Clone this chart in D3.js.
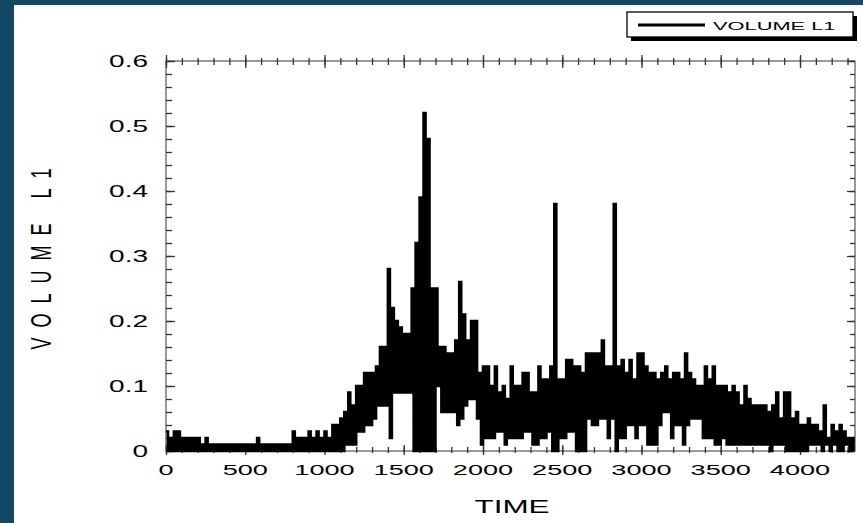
<!DOCTYPE html>
<html><head><meta charset="utf-8">
<script src="https://cdn.jsdelivr.net/npm/d3@7"></script>
<style>html,body{margin:0;padding:0;background:#fff;} svg{display:block;}</style>
</head><body>
<svg id="c" width="863" height="523"></svg>
<script>
// ---- data ----
const timeStep = 25; // each value pair covers one 25-unit TIME bin
const binStart = d3.range(0, 4350, timeStep);
const volumeHigh = [
  0.03,0.02,0.03,0.03,0.02,0.02,0.02,0.02,0.02,0.01,
  0.02,0.01,0.01,0.01,0.01,0.01,0.01,0.01,0.01,0.01,
  0.01,0.01,0.01,0.02,0.01,0.01,0.01,0.01,0.01,0.01,
  0.01,0.01,0.03,0.02,0.02,0.02,0.03,0.02,0.03,0.02,
  0.03,0.02,0.04,0.04,0.05,0.06,0.09,0.07,0.10,0.10,
  0.12,0.12,0.12,0.13,0.16,0.16,0.28,0.22,0.20,0.19,
  0.18,0.18,0.25,0.32,0.39,0.52,0.48,0.25,0.25,0.16,
  0.16,0.15,0.15,0.17,0.26,0.21,0.17,0.20,0.20,0.12,
  0.13,0.13,0.10,0.13,0.09,0.10,0.08,0.13,0.10,0.10,
  0.12,0.12,0.09,0.09,0.13,0.11,0.11,0.13,0.38,0.11,
  0.11,0.14,0.14,0.13,0.13,0.12,0.15,0.15,0.15,0.15,
  0.17,0.13,0.13,0.38,0.13,0.14,0.12,0.14,0.11,0.15,
  0.15,0.13,0.12,0.12,0.11,0.12,0.13,0.11,0.12,0.12,
  0.11,0.15,0.12,0.11,0.10,0.10,0.13,0.11,0.13,0.10,
  0.10,0.10,0.09,0.10,0.09,0.07,0.10,0.08,0.07,0.07,
  0.07,0.07,0.06,0.07,0.09,0.05,0.09,0.09,0.05,0.06,
  0.04,0.04,0.05,0.04,0.04,0.03,0.07,0.02,0.04,0.03,
  0.04,0.03,0.02,0.02
];
const volumeLow = [
  0,0,0,0,0,0,0,0,0,0,
  0,0,0,0,0,0,0,0,0,0,
  0,0,0,0,0,0,0,0,0,0,
  0,0,0,0,0,0,0,0,0,0,
  0,0,0,0,0,0.01,0.01,0.01,0.03,0.03,
  0.04,0.04,0.05,0.07,0.07,0.07,0.02,0.09,0.09,0.09,
  0.09,0.09,0,0,0,0,0,0,0.10,0.06,
  0.06,0.06,0.06,0.04,0.05,0.07,0.08,0.08,0.05,0.01,
  0.02,0.02,0.02,0.03,0.03,0.01,0.02,0.02,0.02,0.02,
  0.03,0.03,0.01,0.01,0.02,0.02,0.03,0,0,0.02,
  0.02,0.03,0.03,0,0,0,0.05,0.04,0.04,0.05,
  0.05,0.02,0.05,0,0.02,0.02,0.04,0.04,0.02,0.04,
  0.04,0.01,0.01,0.01,0.04,0.06,0.06,0.02,0.04,0.04,
  0.01,0.04,0.05,0.05,0.05,0.02,0.02,0.02,0.01,0.01,
  0.02,0.01,0.01,0.01,0.01,0.01,0.01,0.01,0.01,0.01,
  0.01,0.01,0,0.01,0.01,0.01,0,0,0,0,
  0,0,0.01,0.01,0.01,0,0.01,0,0.01,0,
  0,0.01,0,0
];
const xMajorTicks = [0,500,1000,1500,2000,2500,3000,3500,4000];
const xMinorTicks = d3.range(0, 4347, 100);
const yMajorTicks = [0,0.1,0.2,0.3,0.4,0.5,0.6];
const yMinorTicks = d3.range(0, 0.601, 0.02);
const yTickLabels = ["0","0.1","0.2","0.3","0.4","0.5","0.6"];
const seriesName = "VOLUME L1";
const xTitle = "TIME";
const yTitle = "VOLUME L1";

// ---- layout ----
const L = 166, R = 855, T = 61, B = 451;
const FONT = "'Liberation Sans', Arial, sans-serif";
const svg = d3.select('#c');
svg.append('rect').attr('width',863).attr('height',523).attr('fill','#134864');
svg.append('rect').attr('x',14).attr('y',5).attr('width',849).attr('height',518).attr('fill','#fff');

const x = d3.scaleLinear().domain([0, 4347]).range([L, R]);
const y = d3.scaleLinear().domain([0, 0.6]).range([B, T]);

// frame
svg.append('rect').attr('x',L).attr('y',T).attr('width',R-L).attr('height',B-T)
  .attr('fill','none').attr('stroke','#555').attr('stroke-width',1.2);

function tickAxis(axisFn, scale, values, inner, cross, pos, attr){
  const g = svg.append('g').attr('transform', pos)
    .call(axisFn(scale).tickValues(values).tickSizeInner(inner).tickSizeOuter(0).tickFormat(''));
  g.select('.domain').remove();
  g.selectAll('.tick line').attr(attr, cross).attr('stroke','#333').attr('stroke-width',1.3);
  return g;
}
tickAxis(d3.axisBottom, x, xMinorTicks, -4, 2, `translate(0,${B})`, 'y1');
tickAxis(d3.axisBottom, x, xMajorTicks, -6, 4, `translate(0,${B})`, 'y1');
tickAxis(d3.axisTop, x, xMinorTicks, -4, -3, `translate(0,${T})`, 'y1');
tickAxis(d3.axisTop, x, xMajorTicks, -7, -6, `translate(0,${T})`, 'y1');
tickAxis(d3.axisLeft, y, yMinorTicks, -6, 0, `translate(${L},0)`, 'x1');
tickAxis(d3.axisLeft, y, yMajorTicks, -9, 0, `translate(${L},0)`, 'x1');
tickAxis(d3.axisRight, y, yMinorTicks, -5, 0, `translate(${R},0)`, 'x1');
tickAxis(d3.axisRight, y, yMajorTicks, -8, 0, `translate(${R},0)`, 'x1');

// data line
const pts = [];
binStart.forEach((t, i) => {
  pts.push([t, volumeHigh[i]]);
  pts.push([t + timeStep / 2, volumeLow[i]]);
});
const line = d3.line().x(d => x(d[0])).y(d => y(d[1])).curve(d3.curveStepAfter);
svg.append('path').datum(pts).attr('d', line)
  .attr('fill','none').attr('stroke','#000').attr('stroke-width',2.6).attr('stroke-linejoin','miter');

// tick labels
svg.append('g').selectAll('text').data(xMajorTicks).join('text')
  .attr('transform', d => `translate(${x(d)},474.5) scale(1.75,1)`)
  .attr('text-anchor','middle').attr('font-family',FONT).attr('font-size',15.5).attr('fill','#000')
  .text(d => d);
svg.append('g').selectAll('text').data(yMajorTicks).join('text')
  .attr('transform', d => `translate(148,${y(d)+5.8}) scale(1.75,1)`)
  .attr('text-anchor','end').attr('font-family',FONT).attr('font-size',16).attr('fill','#000')
  .text((d,i) => yTickLabels[i]);

// titles
svg.append('text').attr('transform',`translate(512,513) scale(1.7,1)`)
  .attr('text-anchor','middle').attr('font-family',FONT).attr('font-size',18.5).attr('fill','#000')
  .text(xTitle);
svg.append('text').attr('transform',`translate(51,254) scale(1.6,1) rotate(-90)`)
  .attr('text-anchor','middle').attr('font-family',FONT).attr('font-size',18)
  .attr('letter-spacing',10).attr('fill','#000')
  .text(yTitle);

// legend
const lg = svg.append('g');
lg.append('rect').attr('x',631).attr('y',16).attr('width',226).attr('height',25).attr('fill','#000');
lg.append('rect').attr('x',627).attr('y',12).attr('width',226).attr('height',25)
  .attr('fill','#fff').attr('stroke','#000').attr('stroke-width',1.3);
lg.append('line').attr('x1',638).attr('x2',705).attr('y1',25).attr('y2',25)
  .attr('stroke','#000').attr('stroke-width',3);
lg.append('text').attr('transform','translate(713,30) scale(1.9,1)')
  .attr('font-family',FONT).attr('font-size',11.5).attr('fill','#000').text(seriesName);
</script>
</body></html>
